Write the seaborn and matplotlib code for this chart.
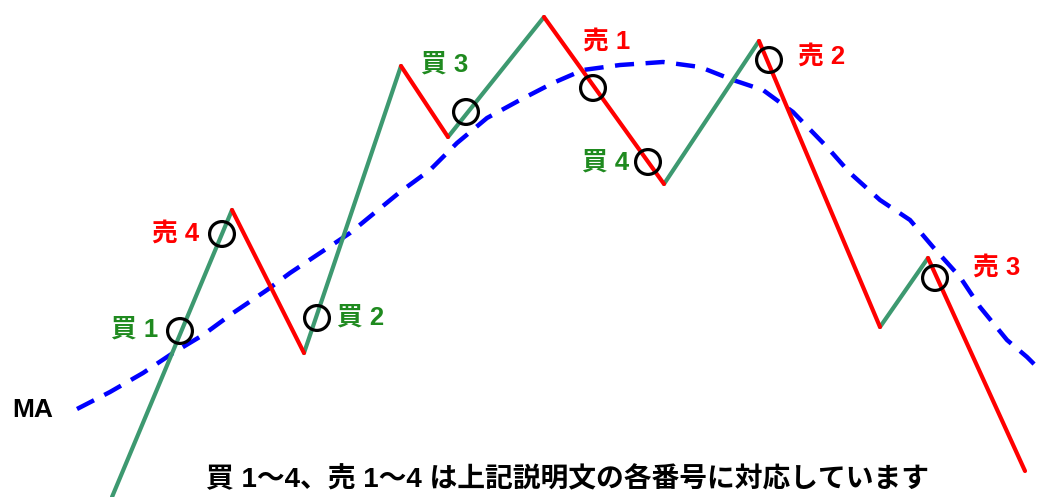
import matplotlib
matplotlib.use("Agg")
import matplotlib.pyplot as plt
import seaborn as sns
import pandas as pd

# zigzag price vertices (x, y in picture units, y grows downward)
price_x = [112, 232, 304, 401, 448, 544, 664, 759, 880, 928, 1025]
price_y = [497, 210, 353, 66, 137, 17, 184, 41, 327, 258, 471]

# moving average curve
ma_x = [77, 110, 143, 173, 203, 233, 267, 290, 320, 350, 400, 430, 457, 487,
        520, 553, 583, 620, 663, 700, 733, 763, 793, 827, 850, 880, 910, 933,
        960, 980, 1007, 1027, 1040]
ma_y = [409, 392, 373, 353, 335, 313, 290, 273, 253, 233, 192, 170, 143, 118,
        100, 83, 70, 65, 62, 67, 80, 90, 112, 147, 173, 200, 220, 247,
        277, 307, 340, 357, 370]

# signal points
sig_labels = ["買 1", "売 4", "買 2", "買 3", "売 1", "買 4", "売 2", "売 3"]
sig_x = [180, 222, 317, 466, 593, 648, 769, 935]
sig_y = [331, 234, 318, 112, 88, 162, 60, 278]
label_x = [158, 199, 337, 421, 583, 629, 798, 973]
label_y = [330, 234, 318, 65, 42, 163, 57, 268]
label_ha = ["right", "right", "left", "left", "left", "right", "left", "left"]

caption = "買 1〜4、売 1〜4 は上記説明文の各番号に対応しています"

sns.set_theme(style="white")
FAM = ['Liberation Sans', 'Noto Sans CJK JP', 'DejaVu Sans']
plt.rcParams['font.family'] = FAM

fig = plt.figure(figsize=(10.38, 4.97), dpi=100)
ax = fig.add_axes([0, 0, 1, 1])

# build segment table
rows = []
for i in range(len(price_x) - 1):
    d = "up" if price_y[i + 1] < price_y[i] else "down"
    rows.append(dict(seg=i, x=price_x[i], y=price_y[i], dir=d))
    rows.append(dict(seg=i, x=price_x[i + 1], y=price_y[i + 1], dir=d))
seg_df = pd.DataFrame(rows)

ma_df = pd.DataFrame({"x": ma_x, "y": ma_y})
sns.lineplot(data=ma_df, x="x", y="y", ax=ax, color="#0000ff", lw=3.2,
             sort=False, estimator=None, zorder=1)
ax.lines[-1].set_linestyle((0, (4.3, 2.6)))
ax.lines[-1].set_dash_capstyle("butt")

sns.lineplot(data=seg_df, x="x", y="y", hue="dir", units="seg",
             estimator=None, sort=False, ax=ax,
             palette={"up": "#3d9970", "down": "#ff0000"},
             lw=3.0, legend=False, zorder=2)

sig_df = pd.DataFrame({"x": sig_x, "y": sig_y})
sns.scatterplot(data=sig_df, x="x", y="y", ax=ax, s=320, marker="o",
                facecolors="none", edgecolor="black", linewidth=2.3, zorder=3)

for lab, lx, ly, ha in zip(sig_labels, label_x, label_y, label_ha):
    col = "#1f8a1f" if lab.startswith("買") else "#ff0000"
    ax.text(lx, ly, lab, color=col, fontsize=18.5, fontweight="bold",
            ha=ha, va="center", family=FAM)

ax.text(12, 410, "MA", color="black", fontsize=19, fontweight="bold",
        ha="left", va="center", family=FAM)

ax.text(568, 480, caption, color="black", fontsize=20, fontweight="bold",
        ha="center", va="center", family=FAM)

ax.set_xlim(0, 1038)
ax.set_ylim(497, 0)
ax.axis("off")

fig.savefig("out.png", dpi=100)
